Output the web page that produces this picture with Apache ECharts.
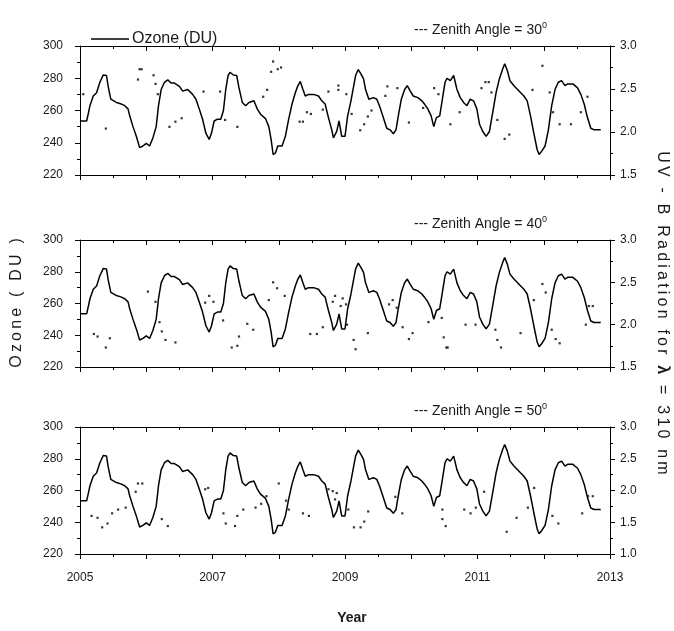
<!DOCTYPE html>
<html>
<head>
<meta charset="utf-8">
<script src="https://cdn.jsdelivr.net/npm/echarts@6/dist/echarts.min.js"></script>
<style>html,body{margin:0;padding:0;background:#fff}#c{width:674px;height:631px}</style>
</head>
<body>
<div id="c"></div>
<script>
// ---- data ----
const yearTicks = [2005, 2007, 2009, 2011, 2013];
const ozoneRange = [220, 300];
const uvRanges = [[1.5, 3.0], [1.5, 3.0], [1.0, 3.0]];
const zenithAngles = ['30', '40', '50'];

// Ozone (DU): [decimal year, DU]
const ozone = [
[2005.00,253.5],[2005.10,253.5],[2005.125,258],[2005.15,263],[2005.20,269],[2005.25,271],[2005.30,277.5],[2005.35,282],[2005.40,281.7],[2005.425,275],[2005.465,267],[2005.55,265],[2005.625,264],[2005.675,263],[2005.725,261],[2005.75,256.7],[2005.80,250],[2005.85,244],[2005.90,237],[2005.95,238],
[2006.00,239.6],[2006.05,238],[2006.10,243],[2006.15,250],[2006.185,263],[2006.225,273],[2006.275,277.5],[2006.325,279],[2006.375,277],[2006.425,277],[2006.50,275],[2006.55,272],[2006.625,273],[2006.70,270],[2006.75,267],[2006.80,261],[2006.85,254.6],[2006.90,246],[2006.95,242],[2006.985,246],
[2007.025,253.5],[2007.075,254.6],[2007.125,254.6],[2007.165,260],[2007.20,273],[2007.235,281.7],[2007.265,283.7],[2007.315,282],[2007.365,281.7],[2007.40,274],[2007.45,265],[2007.50,263],[2007.55,265],[2007.625,266],[2007.675,261],[2007.725,257.7],[2007.80,255],[2007.85,250],[2007.885,242],[2007.915,232.7],[2007.95,233.7],[2007.985,238],
[2008.05,238],[2008.10,244],[2008.15,254.6],[2008.20,264],[2008.25,271],[2008.285,275],[2008.325,278],[2008.365,273],[2008.40,269],[2008.45,270],[2008.525,270],[2008.60,269],[2008.65,266],[2008.70,264],[2008.75,255.6],[2008.80,248],[2008.825,243],[2008.875,247],[2008.91,253.5],[2008.95,244],[2008.965,243],
[2009.00,244],[2009.04,256.7],[2009.09,266],[2009.13,275],[2009.16,281.7],[2009.20,285.4],[2009.24,282.7],[2009.28,279.6],[2009.31,273],[2009.36,267],[2009.43,268],[2009.48,267],[2009.52,263],[2009.57,256.7],[2009.63,249],[2009.68,248],[2009.73,245.6],[2009.77,248],[2009.80,255.6],[2009.85,267],[2009.90,273],[2009.94,275.4],[2009.985,272],
[2010.03,269],[2010.10,268],[2010.16,266],[2010.20,264],[2010.25,261],[2010.30,256.7],[2010.34,250],[2010.38,255.6],[2010.43,256.7],[2010.47,267],[2010.51,277.5],[2010.54,280],[2010.59,278.5],[2010.64,281.7],[2010.69,273],[2010.74,268],[2010.79,265],[2010.84,263],[2010.89,267],[2010.94,266],[2010.99,261],
[2011.03,251.5],[2011.08,247],[2011.13,244],[2011.18,247],[2011.23,258.8],[2011.28,271],[2011.33,279.6],[2011.38,285.8],[2011.41,289],[2011.45,284.8],[2011.49,278.5],[2011.55,275.4],[2011.63,272],[2011.70,269],[2011.75,266],[2011.80,256.7],[2011.85,246],[2011.90,235.8],[2011.93,232.7],[2011.97,234.8],
[2012.02,238],[2012.07,248],[2012.12,263],[2012.17,273],[2012.22,277.5],[2012.27,278.5],[2012.32,275.4],[2012.36,276.5],[2012.44,276.5],[2012.51,274],[2012.56,270],[2012.61,264],[2012.66,255.6],[2012.71,249],[2012.76,248],[2012.86,248]
];

// UV-B radiation, zenith angle 30
const uv30 = [
[2005.05,2.44],[2005.39,2.04],[2005.875,2.61],[2005.90,2.73],[2005.93,2.73],[2006.11,2.66],[2006.14,2.56],[2006.175,2.44],[2006.35,2.06],[2006.44,2.12],[2006.535,2.16],[2006.865,2.47],[2007.115,2.47],[2007.19,2.14],[2007.375,2.06],[2007.765,2.41],[2007.825,2.49],[2007.885,2.70],[2007.915,2.82],[2007.985,2.73],[2008.035,2.75],[2008.315,2.12],[2008.365,2.12],[2008.425,2.23],[2008.485,2.21],[2008.665,2.26],[2008.75,2.47],[2008.90,2.54],[2008.90,2.49],[2009.02,2.44],[2009.10,2.21],[2009.23,2.02],[2009.29,2.09],[2009.345,2.18],[2009.40,2.25],[2009.61,2.42],[2009.64,2.53],[2009.79,2.51],[2009.965,2.11],[2010.18,2.28],[2010.345,2.51],[2010.41,2.44],[2010.59,2.09],[2010.73,2.23],[2011.06,2.51],[2011.12,2.58],[2011.17,2.58],[2011.21,2.46],[2011.30,2.14],[2011.41,1.92],[2011.48,1.97],[2011.83,2.49],[2011.98,2.77],[2012.09,2.46],[2012.14,2.23],[2012.24,2.09],[2012.41,2.09],[2012.56,2.23],[2012.66,2.41]
];
// zenith angle 40
const uv40 = [
[2005.21,1.89],[2005.265,1.86],[2005.39,1.73],[2005.45,1.84],[2006.025,2.39],[2006.14,2.27],[2006.20,2.03],[2006.235,1.92],[2006.29,1.82],[2006.44,1.79],[2006.89,2.26],[2006.95,2.34],[2007.015,2.27],[2007.16,2.05],[2007.29,1.73],[2007.375,1.75],[2007.40,1.86],[2007.525,2.01],[2007.615,1.94],[2007.85,2.29],[2007.915,2.50],[2007.975,2.43],[2008.09,2.34],[2008.475,1.89],[2008.575,1.89],[2008.665,1.97],[2008.815,2.27],[2008.85,2.34],[2008.935,2.22],[2008.965,2.31],[2009.015,2.24],[2009.03,2.00],[2009.13,1.82],[2009.16,1.71],[2009.345,1.90],[2009.665,2.24],[2009.72,2.29],[2009.78,2.20],[2009.87,1.97],[2009.965,1.83],[2010.02,1.90],[2010.26,2.03],[2010.46,2.08],[2010.49,1.85],[2010.53,1.73],[2010.55,1.73],[2010.82,2.00],[2010.97,2.00],[2011.27,1.94],[2011.30,1.82],[2011.355,1.73],[2011.65,1.90],[2011.85,2.29],[2011.98,2.48],[2012.03,2.38],[2012.12,1.94],[2012.18,1.83],[2012.24,1.78],[2012.635,2.00],[2012.68,2.22],[2012.74,2.22]
];
// zenith angle 50
const uv50 = [
[2005.175,1.60],[2005.265,1.57],[2005.335,1.42],[2005.415,1.48],[2005.485,1.64],[2005.575,1.70],[2005.69,1.73],[2005.84,1.98],[2005.875,2.11],[2005.94,2.11],[2006.235,1.55],[2006.325,1.44],[2006.89,2.02],[2006.935,2.04],[2007.165,1.64],[2007.20,1.48],[2007.34,1.44],[2007.375,1.60],[2007.465,1.70],[2007.65,1.73],[2007.735,1.79],[2007.815,1.91],[2008.00,2.11],[2008.11,1.84],[2008.15,1.70],[2008.365,1.64],[2008.455,1.60],[2008.75,2.02],[2008.815,1.99],[2008.85,1.86],[2008.875,1.96],[2009.05,1.70],[2009.135,1.42],[2009.235,1.42],[2009.29,1.51],[2009.35,1.67],[2009.76,1.90],[2009.865,1.64],[2010.47,1.70],[2010.47,1.55],[2010.52,1.44],[2010.80,1.70],[2010.895,1.64],[2010.975,1.73],[2011.10,1.98],[2011.44,1.35],[2011.59,1.57],[2011.76,1.73],[2011.855,2.04],[2012.13,1.60],[2012.22,1.48],[2012.58,1.64],[2012.67,1.91],[2012.74,1.91]
];
const uvSets = [uv30, uv40, uv50];

// ---- chart ----
const FONT = 'Liberation Sans, Arial, sans-serif';
const TXT = '#1a1a1a';
const spaced = s => s.split('').join('\u2009');

const gridTops = [46, 240, 427];
const gridHeights = [129, 127, 127];
const grid = gridTops.map((t, i) => ({left: 80, right: 64, top: t, height: gridHeights[i]}));

const axisLine = {show: true, onZero: false, lineStyle: {color: '#000', width: 1}};
const xAxis = [];
const yAxis = [];
const series = [];
const graphic = [];

for (let i = 0; i < 3; i++) {
  xAxis.push({
    type: 'value', gridIndex: i, min: 2005, max: 2013, interval: 1, position: 'bottom',
    axisLine, axisTick: {show: true, length: 5, lineStyle: {color: '#000'}},
    minorTick: {show: true, splitNumber: 2, length: 3, lineStyle: {color: '#000'}},
    splitLine: {show: false}, minorSplitLine: {show: false},
    axisLabel: {
      show: i === 2, margin: 18, fontSize: 12, fontFamily: FONT, color: TXT,
      formatter: v => (yearTicks.indexOf(v) >= 0 ? String(v) : '')
    }
  });
  xAxis.push({
    type: 'value', gridIndex: i, min: 2005, max: 2013, interval: 1, position: 'top',
    axisLine, axisTick: {show: true, inside: true, length: 5, lineStyle: {color: '#000'}},
    minorTick: {show: true, splitNumber: 2, length: 3, lineStyle: {color: '#000'}},
    splitLine: {show: false}, axisLabel: {show: false}
  });
  yAxis.push({
    type: 'value', gridIndex: i, min: ozoneRange[0], max: ozoneRange[1], interval: 20, position: 'left',
    axisLine, axisTick: {show: true, length: 5, lineStyle: {color: '#000'}},
    minorTick: {show: true, splitNumber: 2, length: 3, lineStyle: {color: '#000'}},
    splitLine: {show: false},
    axisLabel: {margin: 17, fontSize: 12, fontFamily: FONT, color: TXT}
  });
  yAxis.push({
    type: 'value', gridIndex: i, min: uvRanges[i][0], max: uvRanges[i][1], interval: 0.5, position: 'right',
    axisLine, axisTick: {show: true, length: 5, lineStyle: {color: '#000'}},
    minorTick: {show: true, splitNumber: 2, length: 3, lineStyle: {color: '#000'}},
    splitLine: {show: false},
    axisLabel: {margin: 10, fontSize: 12, fontFamily: FONT, color: TXT, formatter: v => v.toFixed(1)}
  });

  series.push({
    name: i === 0 ? 'Ozone (DU)' : 'Ozone ' + (i + 1),
    type: 'line', xAxisIndex: 2 * i, yAxisIndex: 2 * i,
    data: ozone, symbol: 'none', silent: true,
    itemStyle: {color: '#000'},
    lineStyle: {color: '#000', width: 1.5}
  });
  series.push({
    name: 'Zenith Angle = ' + zenithAngles[i],
    type: 'scatter', xAxisIndex: 2 * i, yAxisIndex: 2 * i + 1,
    data: uvSets[i], symbol: 'rect', symbolSize: 2.2, silent: true,
    itemStyle: {color: '#000'}
  });

  graphic.push({
    type: 'text', left: 414, top: gridTops[i] - 25,
    style: {
      text: '{m|--- Zenith Angle = ' + zenithAngles[i] + '}{s|0}',
      rich: {
        m: {fontSize: 14, fontFamily: FONT, fill: TXT, lineHeight: 19},
        s: {fontSize: 9, fontFamily: FONT, fill: TXT, lineHeight: 9, verticalAlign: 'top'}
      }
    }
  });
}

graphic.push({
  type: 'text', x: 17, y: 303, rotation: Math.PI / 2,
  style: {text: spaced('Ozone ( DU )'), fontSize: 16, fontFamily: FONT, fill: TXT, align: 'center', verticalAlign: 'middle'}
});
graphic.push({
  type: 'text', x: 662, y: 313, rotation: -Math.PI / 2,
  style: {
    text: '{n|' + spaced('UV - B Radiation for ') + '\u2009}{b|λ}{n|\u2009' + spaced(' = 310 nm') + '}',
    rich: {
      n: {fontSize: 16, fontFamily: FONT, fill: TXT},
      b: {fontSize: 16, fontFamily: FONT, fill: TXT, fontWeight: 'bold'}
    },
    align: 'center', verticalAlign: 'middle'
  }
});
graphic.push({
  type: 'text', x: 352, y: 618,
  style: {text: 'Year', fontSize: 14, fontWeight: 'bold', fontFamily: FONT, fill: TXT, align: 'center', verticalAlign: 'middle'}
});

const chart = echarts.init(document.getElementById('c'), null, {renderer: 'canvas'});
chart.setOption({
  animation: false,
  backgroundColor: '#fff',
  grid, xAxis, yAxis, series, graphic,
  legend: {
    data: [{name: 'Ozone (DU)', icon: 'rect'}], left: 86, top: 26, itemWidth: 38, itemHeight: 1.5, itemGap: 4,
    itemStyle: {color: '#000'},
    textStyle: {fontSize: 16, fontFamily: FONT, color: TXT, padding: [0, 0, 0, -2]},
    selectedMode: false
  }
});
</script>
</body>
</html>
